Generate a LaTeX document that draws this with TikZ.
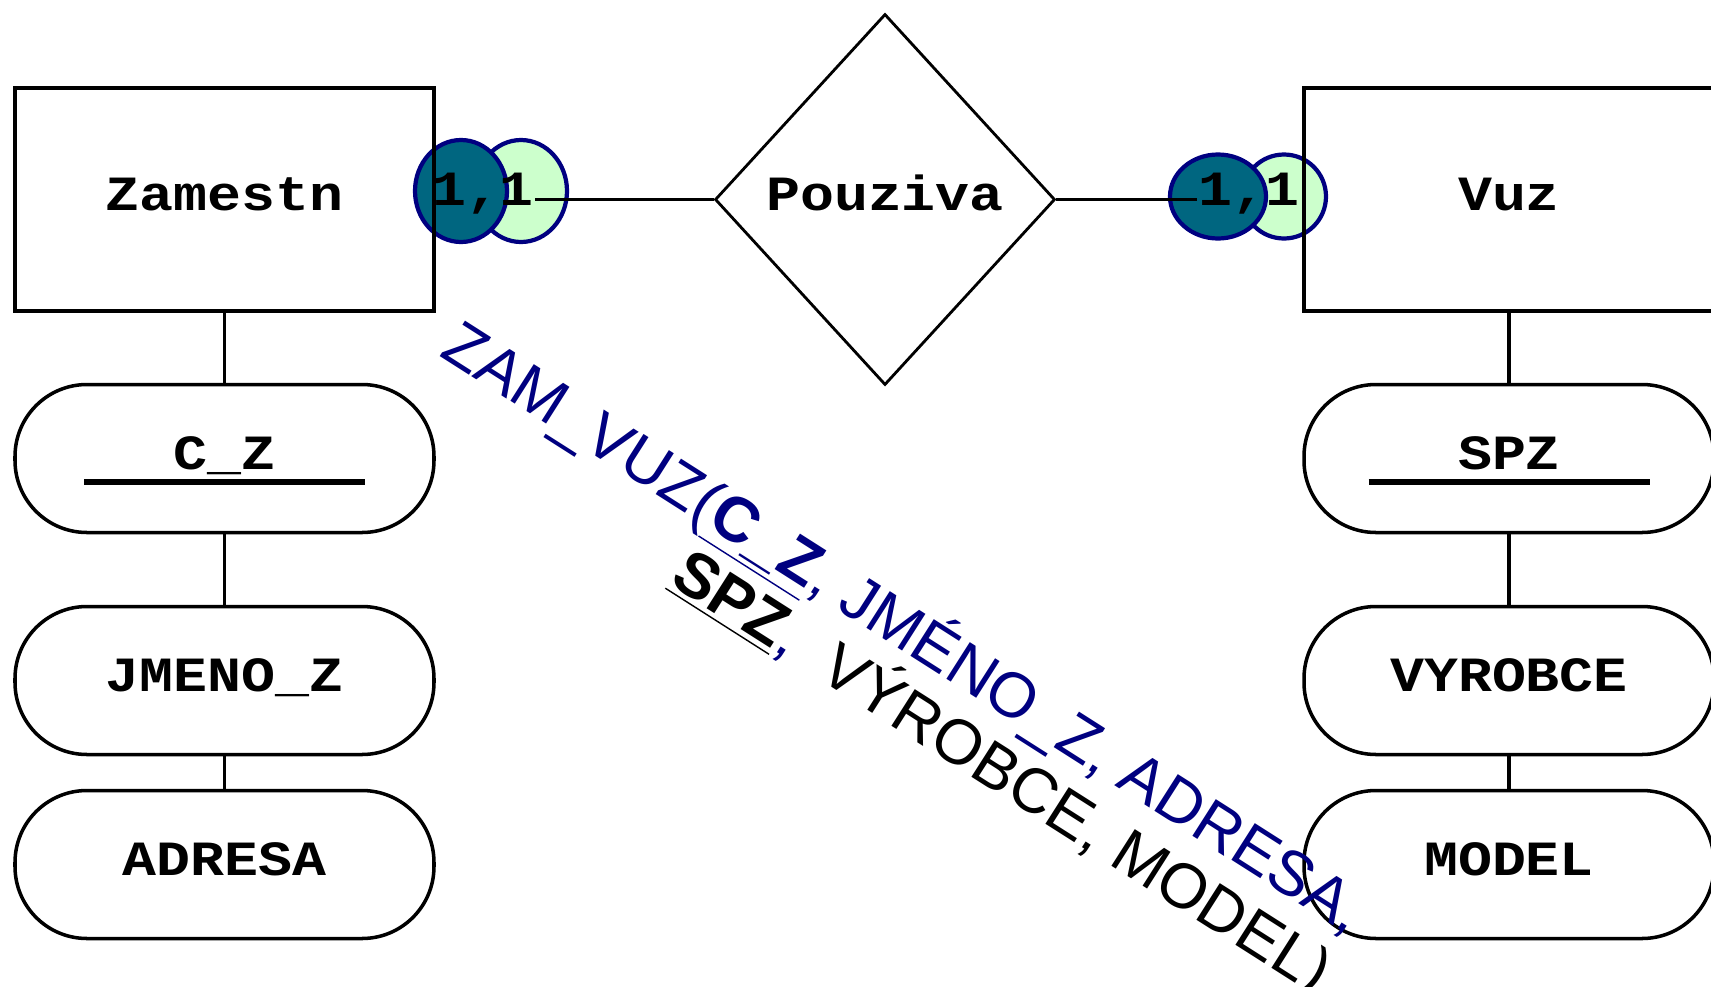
\documentclass[tikz,border=0pt]{standalone}
\usepackage{fontspec}
\newfontfamily\erfont[FakeStretch=1.15]{Liberation Mono}
\newfontfamily\arialfont{Liberation Sans}
\usetikzlibrary{calc,shapes, shapes.geometric}
\usetikzlibrary{positioning}
\definecolor{navyline}{RGB}{0,0,128}
\definecolor{tealfill}{RGB}{0,102,128}
\definecolor{mintfill}{RGB}{204,255,204}
\tikzstyle{entity} = [%
					draw, rectangle,
					line width = 1.2pt,
					minimum width = 4.19cm, minimum height = 2.23cm,
					text height = 8.4pt, text depth = 2.2pt,
					font = \fontsize{14}{14}\erfont\bfseries]
\tikzstyle{attrib} = [%
					draw, rectangle,
					rounded corners = 0.72cm,
					line width = 1pt,
					minimum width = 4.19cm, minimum height = 1.48cm,
					text height = 8.4pt, text depth = 2.2pt,
					font = \fontsize{14}{14}\erfont\bfseries]
\tikzstyle{relation} = [%
					draw, diamond,
					line width = 0.8pt, inner sep = 0pt,
					minimum width = 3.4cm, minimum height = 3.71cm,
					text height = 8.4pt, text depth = 2.2pt,
					font = \fontsize{14}{14}\erfont\bfseries]
\tikzstyle{card} = [ellipse, draw = navyline, line width = 1.2pt, inner sep = 0pt]
\tikzstyle{cardtext} = [inner sep = 0pt, text height = 8.4pt, text depth = 2.2pt,
					font = \fontsize{14}{14}\erfont\bfseries]
\tikzstyle{link} = [line width = 0.9pt]
\tikzstyle{keyline} = [line width = 1.7pt]
\tikzstyle{schema} = [%
					rotate = -32.5, anchor = base west, inner sep = 0pt,
					font = \arialfont\fontsize{18}{20}\selectfont]

\begin{document}
\begin{tikzpicture}

	\useasboundingbox (0,0) rectangle (17.11,-9.87);

	% Cardinalities
	\node[card, fill = mintfill, minimum width = 0.92cm, minimum height = 1.02cm] (zl) at (5.21,-1.91) {};
	\node[card, fill = tealfill, minimum width = 0.92cm, minimum height = 1.02cm] (zd) at (4.61,-1.91) {};
	\node[card, fill = mintfill, minimum width = 0.84cm, minimum height = 0.84cm] (vl) at (12.84,-1.965) {};
	\node[card, fill = tealfill, minimum width = 0.96cm, minimum height = 0.84cm] (vd) at (12.18,-1.965) {};

	% Nodes
	%% Entities
	\node[entity] (zam) at (2.245,-1.995) {Zamestn};
	\node[entity, minimum width = 4.1cm] (vuz) at (15.09,-1.995) {Vuz};
	%% Relationship
	\node[relation] (pouz) at (8.85,-1.995) {Pouziva};
	%% Attributes
	\node[attrib] (cz)      at (2.245,-4.585) {C\_Z};
	\node[attrib] (jmeno)   at (2.245,-6.805) {JMENO\_Z};
	\node[attrib] (adresa)  at (2.245,-8.645) {ADRESA};
	\node[attrib, minimum width = 4.1cm] (spz)     at (15.09,-4.585) {SPZ};
	\node[attrib, minimum width = 4.1cm] (vyrobce) at (15.09,-6.805) {VYROBCE};
	\node[attrib, minimum width = 4.1cm] (model)   at (15.09,-8.645) {MODEL};

	% Cardinality labels
	\node[cardtext] (zk) at (4.83,-1.95) {1,1};
	\node[cardtext] (vk) at (12.49,-1.95) {1,1};

	% Connectors
	\draw[link, line width = 1.1pt] (pouz.west) -- (pouz.west -| zk.east);
	\draw[link, line width = 1.1pt] (pouz.east) -- (pouz.east -| vk.west);
	\draw[link] (zam) -- (cz);
	\draw[link] (cz) -- (jmeno);
	\draw[link] (jmeno) -- (adresa);
	\draw[link] (vuz) -- (spz);
	\draw[link] (spz) -- (vyrobce);
	\draw[link] (vyrobce) -- (model);

	% Keys
	\draw[keyline] ($(cz.center)+(-1.405,-0.235)$) -- ++(2.81,0);
	\draw[keyline] ($(spz.center)+(-1.405,-0.235)$) -- ++(2.81,0);

	% Relation schema
	\node[schema, text = navyline] (rel1) at (4.38,-3.55)
		{ZAM\_VUZ(\textbf{\underline{C\_Z}}, JMÉNO\_Z, ADRESA,};
	\node[schema] (rel2) at ([shift={(-122.5:0.69)}]rel1.base west)
		{\phantom{ZAM\_VUZ(}\textbf{\underline{SPZ}}\textcolor{navyline}{,}\ \ VÝROBCE, MODEL)};
\end{tikzpicture}
\end{document}
